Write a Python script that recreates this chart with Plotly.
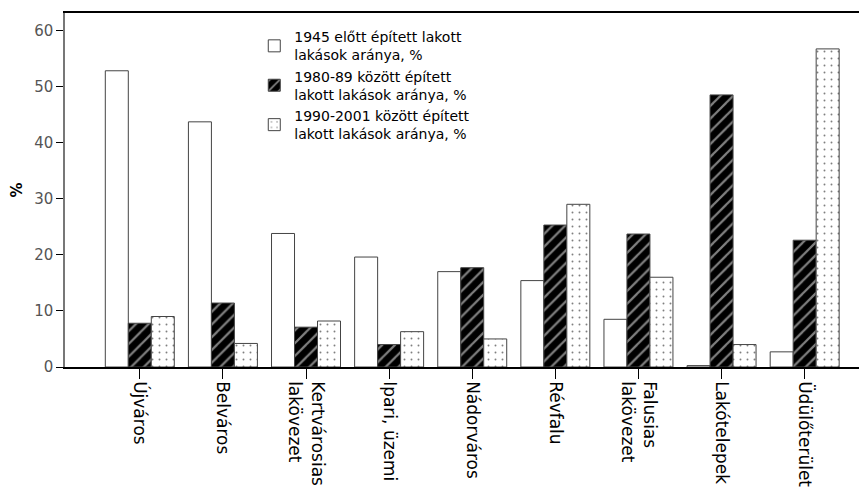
import plotly.graph_objects as go

categories = ["Újváros", "Belváros", "Kertvárosias<br>lakövezet", "Ipari, üzemi",
              "Nádorváros", "Révfalu", "Falusias<br>lakövezet", "Lakótelepek", "Üdülőterület"]

before_1945 = [52.8, 43.7, 23.8, 19.6, 17.0, 15.4, 8.5, 0.25, 2.7]
built_1980_89 = [7.8, 11.4, 7.1, 4.0, 17.7, 25.3, 23.7, 48.5, 22.6]
built_1990_2001 = [9.0, 4.2, 8.2, 6.3, 5.0, 29.0, 16.0, 4.0, 56.7]

names = ["1945 előtt épített lakott<br>lakások aránya, %",
         "1980-89 között épített<br>lakott lakások aránya, %",
         "1990-2001 között épített<br>lakott lakások aránya, %"]

font = "DejaVu Sans, Verdana, sans-serif"
edge = dict(color="#444444", width=1)

fig = go.Figure()
fig.add_trace(go.Bar(
    x=categories, y=before_1945, name=names[0],
    marker=dict(color="white", line=edge),
))
fig.add_trace(go.Bar(
    x=categories, y=built_1980_89, name=names[1],
    marker=dict(color="black", line=edge,
                pattern=dict(shape="/", bgcolor="black", fgcolor="white",
                             size=9, solidity=0.25)),
))
fig.add_trace(go.Bar(
    x=categories, y=built_1990_2001, name=names[2],
    marker=dict(color="white", line=edge,
                pattern=dict(shape=".", bgcolor="white", fgcolor="black",
                             size=7, solidity=0.06)),
))

# the page body adds an 8px offset, so the figure is a bit smaller than the window
fig.update_layout(
    width=859, height=495,
    margin=dict(l=54, r=0, t=5, b=136),
    paper_bgcolor="white", plot_bgcolor="white",
    font=dict(family=font, size=14, color="black"),
    barmode="group", bargap=0.17, bargroupgap=0,
    showlegend=True,
    legend=dict(x=0.236, y=0.977, xanchor="left", yanchor="top",
                bgcolor="rgba(0,0,0,0)", font=dict(size=14, color="black"),
                itemwidth=30),
    xaxis=dict(
        range=[-0.9, 8.75], tickangle=90, ticks="outside", ticklen=10,
        tickcolor="black", showline=True, linecolor="black", linewidth=1.5,
        mirror=True, showgrid=False, ticklabelstandoff=-1,
        tickfont=dict(size=17, color="black"),
    ),
    yaxis=dict(
        range=[0, 63.1], tickvals=[0, 10, 20, 30, 40, 50, 60],
        ticks="outside", ticklen=7, tickcolor="black", showline=True,
        linecolor="#777777", linewidth=1.5, showgrid=False, zeroline=False,
        tickfont=dict(size=15, color="#555555"),
        title=dict(text="<b>%</b>", font=dict(size=15, color="black"), standoff=16),
    ),
)

fig.write_html("out.html")
